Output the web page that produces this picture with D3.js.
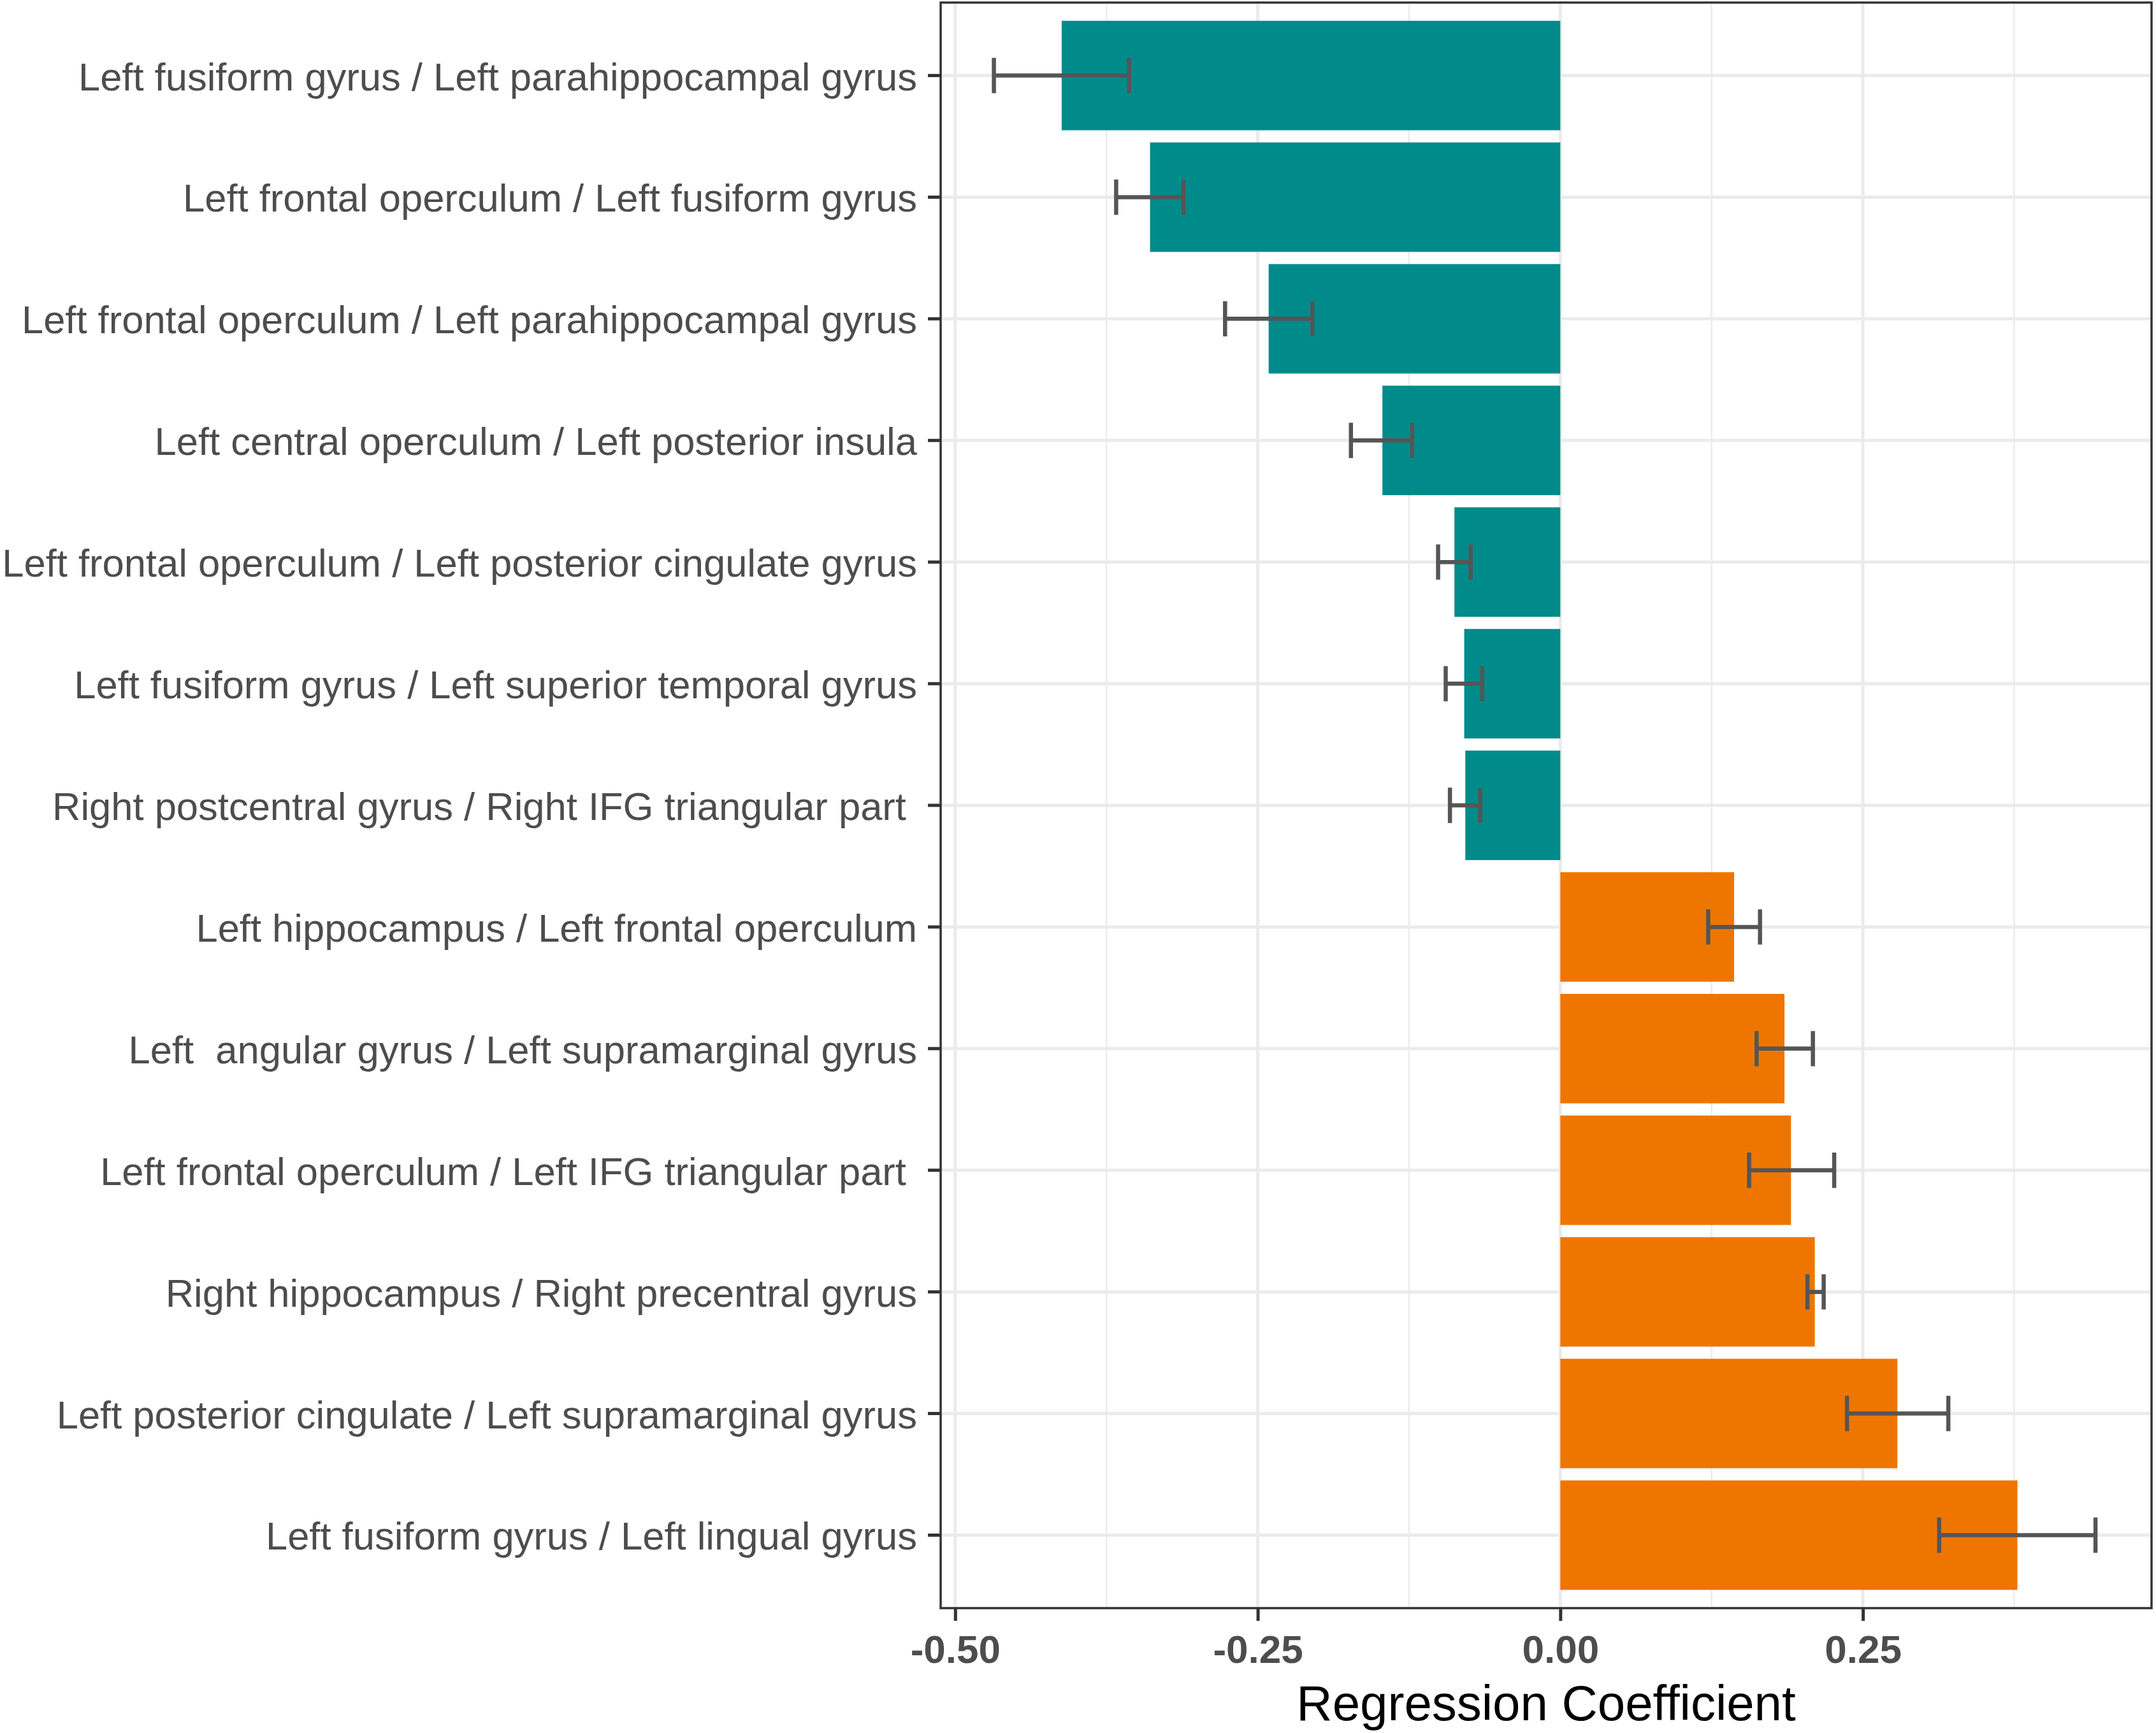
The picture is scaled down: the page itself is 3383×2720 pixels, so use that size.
<!DOCTYPE html>
<html lang="en">
<head>
  <meta charset="utf-8">
  <title>Regression Coefficient bar chart</title>
  <script src="https://cdn.jsdelivr.net/npm/d3@7/dist/d3.min.js"></script>
  <style>
    body { margin: 0; background: #fff; }
    text { font-family: "Liberation Sans", Arial, sans-serif; white-space: pre; }
  </style>
</head>
<body>
  <svg class="chart" width="3383" height="2720"></svg>
  <script>
    // categories, top to bottom
    var categories = [
      "Left fusiform gyrus / Left parahippocampal gyrus",
      "Left frontal operculum / Left fusiform gyrus",
      "Left frontal operculum / Left parahippocampal gyrus",
      "Left central operculum / Left posterior insula",
      "Left frontal operculum / Left posterior cingulate gyrus",
      "Left fusiform gyrus / Left superior temporal gyrus",
      "Right postcentral gyrus / Right IFG triangular part ",
      "Left hippocampus / Left frontal operculum",
      "Left  angular gyrus / Left supramarginal gyrus",
      "Left frontal operculum / Left IFG triangular part ",
      "Right hippocampus / Right precentral gyrus",
      "Left posterior cingulate / Left supramarginal gyrus",
      "Left fusiform gyrus / Left lingual gyrus"
    ];
    var coef  = [-0.412, -0.339, -0.241, -0.147, -0.0875, -0.0794, -0.0785,
                 0.1436, 0.1852, 0.1906, 0.2103, 0.2785, 0.3777];
    var lower = [-0.468, -0.367, -0.277, -0.173, -0.101, -0.0947, -0.0912,
                 0.1222, 0.1622, 0.156, 0.2042, 0.2369, 0.313];
    var upper = [-0.3563, -0.3113, -0.2049, -0.1224, -0.0741, -0.0645, -0.0662,
                 0.165, 0.2087, 0.2263, 0.2176, 0.3206, 0.4422];
    var xTicks = [-0.50, -0.25, 0.00, 0.25];
    var xMinor = [-0.375, -0.125, 0.125, 0.375];
    var xTitle = "Regression Coefficient";

    var data = categories.map(function(c, i) {
      return { name: c, coef: coef[i], lo: lower[i], hi: upper[i] };
    });

    // panel edges (note: "top" is a reserved window property, so prefixed)
    var pLeft = 1476, pRight = 3376, pTop = 4, pBottom = 2524;

    var x = d3.scaleLinear()
              .domain([-0.512, 0.4885])
              .range([pLeft, pRight]);

    var y = d3.scaleBand()
              .domain(categories)
              .range([pTop, pBottom])
              .paddingInner(0.1)
              .paddingOuter(0.15);

    var svg = d3.select("svg.chart");

    // grid
    var grid = svg.append("g");
    grid.selectAll("line.minor")
        .data(xMinor)
        .enter().append("line")
        .attr("class", "minor")
        .attr("x1", function(d) { return x(d); })
        .attr("x2", function(d) { return x(d); })
        .attr("y1", pTop).attr("y2", pBottom)
        .attr("stroke", "#ebebeb")
        .attr("stroke-width", 2.5);
    grid.selectAll("line.majorx")
        .data(xTicks)
        .enter().append("line")
        .attr("class", "majorx")
        .attr("x1", function(d) { return x(d); })
        .attr("x2", function(d) { return x(d); })
        .attr("y1", pTop).attr("y2", pBottom)
        .attr("stroke", "#ebebeb")
        .attr("stroke-width", 5);
    grid.selectAll("line.majory")
        .data(categories)
        .enter().append("line")
        .attr("class", "majory")
        .attr("x1", pLeft).attr("x2", pRight)
        .attr("y1", function(d) { return y(d) + y.bandwidth() / 2; })
        .attr("y2", function(d) { return y(d) + y.bandwidth() / 2; })
        .attr("stroke", "#ebebeb")
        .attr("stroke-width", 5);

    // bars
    svg.append("g")
       .selectAll("rect")
       .data(data)
       .enter().append("rect")
       .attr("x", function(d) { return x(Math.min(0, d.coef)); })
       .attr("width", function(d) { return Math.abs(x(d.coef) - x(0)); })
       .attr("y", function(d) { return y(d.name); })
       .attr("height", y.bandwidth())
       .attr("fill", function(d) { return d.coef < 0 ? "#008b8b" : "#ee7600"; });

    // error bars
    var capH = y.step() * 0.29;
    var err = svg.append("g")
                 .attr("stroke", "#555555")
                 .attr("stroke-width", 6.5)
                 .attr("fill", "none");
    err.selectAll("path")
       .data(data)
       .enter().append("path")
       .attr("d", function(d) {
         var cy = y(d.name) + y.bandwidth() / 2;
         return "M" + x(d.lo) + "," + (cy - capH / 2) + "V" + (cy + capH / 2) +
                "M" + x(d.lo) + "," + cy + "H" + x(d.hi) +
                "M" + x(d.hi) + "," + (cy - capH / 2) + "V" + (cy + capH / 2);
       });

    // panel border
    svg.append("rect")
       .attr("x", pLeft).attr("y", pTop)
       .attr("width", pRight - pLeft).attr("height", pBottom - pTop)
       .attr("fill", "none")
       .attr("stroke", "#333333")
       .attr("stroke-width", 3.5);

    // y axis
    var yAxis = svg.append("g")
                   .attr("transform", "translate(" + pLeft + ",0)")
                   .call(d3.axisLeft(y).tickSize(20).tickPadding(17));
    yAxis.select(".domain").remove();
    yAxis.selectAll(".tick line")
         .attr("stroke", "#333333")
         .attr("stroke-width", 5);
    yAxis.selectAll(".tick text")
         .attr("fill", "#4d4d4d")
         .attr("font-size", 61.5)
         .attr("dy", null)
         .attr("y", 23)
         .style("font-family", "'Liberation Sans', Arial, sans-serif");

    // x axis
    var xAxis = svg.append("g")
                   .attr("transform", "translate(0," + pBottom + ")")
                   .call(d3.axisBottom(x).tickValues(xTicks)
                           .tickSize(20).tickPadding(0));
    xAxis.select(".domain").remove();
    xAxis.selectAll(".tick line")
         .attr("stroke", "#333333")
         .attr("stroke-width", 5);
    xAxis.selectAll(".tick text")
         .attr("fill", "#4d4d4d")
         .attr("font-size", 62)
         .attr("font-weight", "bold")
         .attr("dy", null)
         .attr("y", 86)
         .text(function(d) { return d3.format(".2f")(d).replace("\u2212", "-"); })
         .style("font-family", "'Liberation Sans', Arial, sans-serif");

    svg.append("text")
       .attr("x", (pLeft + pRight) / 2)
       .attr("y", 2700)
       .attr("text-anchor", "middle")
       .attr("font-size", 78)
       .attr("fill", "#000")
       .text(xTitle);
  </script>
</body>
</html>
